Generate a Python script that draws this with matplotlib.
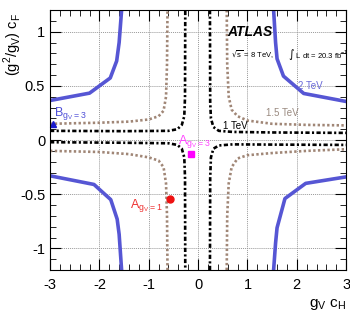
import matplotlib.pyplot as plt
import numpy as np
from matplotlib.ticker import MultipleLocator

plt.rcParams['font.family'] = ['Liberation Sans', 'DejaVu Sans']

# 2 TeV contour (blue, solid), four branches
blueUL_x = [-3.0, -2.20, -1.78, -1.65, -1.60, -1.55]
blueUL_y = [0.365, 0.433, 0.573, 0.73, 0.90, 1.2]
blueLL_x = [-3.0, -2.11, -1.77, -1.64, -1.60, -1.55]
blueLL_y = [-0.33, -0.41, -0.55, -0.73, -0.87, -1.2]
blueUR_x = [1.53, 1.57, 1.60, 1.73, 2.14, 3.0]
blueUR_y = [1.2, 0.90, 0.75, 0.59, 0.43, 0.356]
blueLR_x = [1.53, 1.57, 1.60, 1.76, 2.18, 3.0]
blueLR_y = [-1.2, -0.95, -0.81, -0.54, -0.40, -0.34]

# 1.5 TeV contour (brown, dotted)
brownUL_x = [-3.0, -2.0, -1.4, -1.0, -0.8, -0.70, -0.65, -0.63, -0.62]
brownUL_y = [0.15, 0.16, 0.17, 0.19, 0.22, 0.27, 0.40, 0.70, 1.2]
brownLL_x = [-3.0, -2.0, -1.4, -1.0, -0.8, -0.70, -0.65, -0.63, -0.62]
brownLL_y = [-0.10, -0.11, -0.13, -0.16, -0.19, -0.25, -0.40, -0.70, -1.2]
brownUR_x = [0.58, 0.59, 0.62, 0.68, 0.80, 1.0, 1.5, 2.2, 3.0]
brownUR_y = [1.2, 0.70, 0.40, 0.28, 0.22, 0.18, 0.15, 0.14, 0.135]
brownLR_x = [0.58, 0.59, 0.62, 0.68, 0.80, 1.0, 1.5, 2.2, 3.0]
brownLR_y = [-1.2, -0.70, -0.40, -0.25, -0.17, -0.14, -0.12, -0.10, -0.085]

# 1 TeV contour (black, dash-dot)
blackUL_x = [-3.0, -1.5, -0.6, -0.42, -0.33, -0.28, -0.265, -0.26]
blackUL_y = [0.085, 0.082, 0.085, 0.10, 0.14, 0.22, 0.40, 1.2]
blackLL_x = [-3.0, -1.5, -0.6, -0.42, -0.33, -0.28, -0.265, -0.26]
blackLL_y = [-0.02, -0.025, -0.03, -0.045, -0.08, -0.16, -0.35, -1.2]
blackUR_x = [0.24, 0.245, 0.26, 0.31, 0.42, 0.7, 1.5, 3.0]
blackUR_y = [1.2, 0.35, 0.20, 0.12, 0.085, 0.075, 0.07, 0.066]
blackLR_x = [0.24, 0.245, 0.26, 0.31, 0.42, 0.7, 1.5, 3.0]
blackLR_y = [-1.2, -0.35, -0.16, -0.08, -0.05, -0.04, -0.042, -0.045]

# benchmark points
pointB = (-2.95, 0.145)
pointA3 = (-0.15, -0.13)
pointA1 = (-0.57, -0.54)

blueColor = '#5656d4'
brownColor = '#a08676'


def main():
    fig = plt.figure(figsize=(3.5, 3.14), dpi=100)
    ax = fig.add_axes([0.143, 0.140, 0.846, 0.828])

    for xs, ys in [(blueUL_x, blueUL_y), (blueLL_x, blueLL_y),
                   (blueUR_x, blueUR_y), (blueLR_x, blueLR_y)]:
        ax.plot(xs, ys, color=blueColor, lw=2.6, solid_joinstyle='round')
    for xs, ys in [(brownUL_x, brownUL_y), (brownLL_x, brownLL_y),
                   (brownUR_x, brownUR_y), (brownLR_x, brownLR_y)]:
        ax.plot(xs, ys, color=brownColor, lw=1.9, linestyle=(0, (0.9, 0.9)),
                dash_capstyle='butt')
    for xs, ys in [(blackUL_x, blackUL_y), (blackLL_x, blackLL_y),
                   (blackUR_x, blackUR_y), (blackLR_x, blackLR_y)]:
        ax.plot(xs, ys, color='black', lw=1.9, linestyle=(0, (1.6, 0.9, 0.8, 0.9)),
                dash_capstyle='butt')

    ax.plot(*pointB, marker='^', color='#1a1acc', ms=5, clip_on=False)
    ax.plot(*pointA3, marker='s', color='#ff00ff', ms=5)
    ax.plot(*pointA1, marker='o', color='#ee1111', ms=5)

    ax.text(-2.92, 0.22, r'B$_{\mathregular{g_V=3}}$', color='#5050d8', fontsize=9)
    ax.text(-0.4, -0.04, r'A$_{\mathregular{g_V=3}}$', color='#ff44ff', fontsize=9)
    ax.text(-0.72, -0.63, r'A$_{\mathregular{g_V=1}}$', color='#ee3333', fontsize=9,
            ha='right')
    ax.text(0.5, 0.10, '1 TeV', color='black', fontsize=7)
    ax.text(1.37, 0.22, '1.5 TeV', color='#9a8a80', fontsize=7)
    ax.text(2.03, 0.47, '2 TeV', color='#6a6ad8', fontsize=7)

    ax.text(0.6, 0.96, 'ATLAS', fontsize=10, fontweight='bold', fontstyle='italic')
    ax.text(0.67, 0.76, r'$\sqrt{\mathregular{s}}$ = 8 TeV,', fontsize=5.5)
    ax.text(1.82, 0.76, r'$\int$ L dt = 20.3 fb$^{\mathregular{-1}}$', fontsize=5.5)

    ax.set_xlim(-3, 3)
    ax.set_ylim(-1.2, 1.2)
    ax.xaxis.set_minor_locator(MultipleLocator(0.2))
    ax.yaxis.set_minor_locator(MultipleLocator(0.1))
    ax.set_yticks([-1, -0.5, 0, 0.5, 1])
    ax.set_yticklabels(['-1', '-0.5', '0', '0.5', '1'])
    ax.set_xticks([-3, -2, -1, 0, 1, 2, 3])
    ax.set_xticklabels(['-3', '-2', '-1', '0', '1', '2', '3'])
    ax.tick_params(which='both', direction='in', top=True, right=True, labelsize=10.5)
    ax.tick_params(axis='x', which='major', pad=6)
    ax.tick_params(which='major', length=8)
    ax.tick_params(which='minor', length=4)
    ax.grid(True, which='major', color='#999999', linestyle=(0, (1, 1)), lw=0.7)

    ax.set_xlabel(r'g$_{\mathregular{V}}$ c$_{\mathregular{H}}$', fontsize=11,
                  ha='right')
    ax.xaxis.set_label_coords(1.0, -0.105)
    ax.set_ylabel(r'(g$^{\mathregular{2}}$/g$_{\mathregular{V}}$) c$_{\mathregular{F}}$',
                  fontsize=10.5, ha='right')
    ax.yaxis.set_label_coords(-0.088, 0.99)

    fig.savefig('out.png', dpi=100)


if __name__ == "__main__":
    main()
